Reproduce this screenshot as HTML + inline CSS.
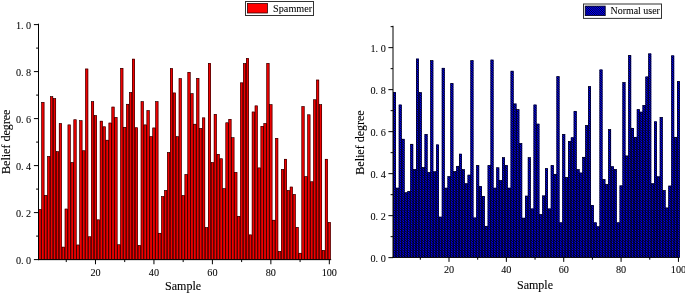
<!DOCTYPE html>
<html><head><meta charset="utf-8"><title>Belief degree</title>
<style>
html,body{margin:0;padding:0;background:#fff;}
svg{display:block;}
text{font-family:"Liberation Serif","Times New Roman",serif;fill:#000;}
.t{font-size:10.2px;stroke:#000;stroke-width:0.06px;}
.l{font-size:12px;stroke:#000;stroke-width:0.1px;}
</style></head><body>
<svg width="685" height="294" viewBox="0 0 685 294">
<defs>
<clipPath id="rc">
<rect x="393.07" y="92.17" width="2.87" height="165.13"/>
<rect x="395.94" y="187.93" width="2.87" height="69.37"/>
<rect x="398.81" y="104.77" width="2.87" height="152.53"/>
<rect x="401.68" y="139" width="2.87" height="118.3"/>
<rect x="404.55" y="192.55" width="2.87" height="64.75"/>
<rect x="407.41" y="191.29" width="2.87" height="66.01"/>
<rect x="410.28" y="144.04" width="2.87" height="113.26"/>
<rect x="413.15" y="169.24" width="2.87" height="88.06"/>
<rect x="416.02" y="58.78" width="2.87" height="198.52"/>
<rect x="418.89" y="92.38" width="2.87" height="164.92"/>
<rect x="421.75" y="167.35" width="2.87" height="89.95"/>
<rect x="424.62" y="134.17" width="2.87" height="123.13"/>
<rect x="427.49" y="172.39" width="2.87" height="84.91"/>
<rect x="430.36" y="60.46" width="2.87" height="196.84"/>
<rect x="433.23" y="171.55" width="2.87" height="85.75"/>
<rect x="436.09" y="144.67" width="2.87" height="112.63"/>
<rect x="438.96" y="216.91" width="2.87" height="40.39"/>
<rect x="441.83" y="68.02" width="2.87" height="189.28"/>
<rect x="444.7" y="187.93" width="2.87" height="69.37"/>
<rect x="447.57" y="176.38" width="2.87" height="80.92"/>
<rect x="450.43" y="83.14" width="2.87" height="174.16"/>
<rect x="453.3" y="171.34" width="2.87" height="85.96"/>
<rect x="456.17" y="166.09" width="2.87" height="91.21"/>
<rect x="459.04" y="153.91" width="2.87" height="103.39"/>
<rect x="461.91" y="169.45" width="2.87" height="87.85"/>
<rect x="464.77" y="183.52" width="2.87" height="73.78"/>
<rect x="467.64" y="174.91" width="2.87" height="82.39"/>
<rect x="470.51" y="60.46" width="2.87" height="196.84"/>
<rect x="473.38" y="217.75" width="2.87" height="39.55"/>
<rect x="476.25" y="165.25" width="2.87" height="92.05"/>
<rect x="479.11" y="186.25" width="2.87" height="71.05"/>
<rect x="481.98" y="196.12" width="2.87" height="61.18"/>
<rect x="484.85" y="226.15" width="2.87" height="31.15"/>
<rect x="487.72" y="165.25" width="2.87" height="92.05"/>
<rect x="490.59" y="59.83" width="2.87" height="197.47"/>
<rect x="493.45" y="187.93" width="2.87" height="69.37"/>
<rect x="496.32" y="167.56" width="2.87" height="89.74"/>
<rect x="499.19" y="180.37" width="2.87" height="76.93"/>
<rect x="502.06" y="157.48" width="2.87" height="99.82"/>
<rect x="504.93" y="165.25" width="2.87" height="92.05"/>
<rect x="507.79" y="187.93" width="2.87" height="69.37"/>
<rect x="510.66" y="70.96" width="2.87" height="186.34"/>
<rect x="513.53" y="103.72" width="2.87" height="153.58"/>
<rect x="516.4" y="109.39" width="2.87" height="147.91"/>
<rect x="519.27" y="143.2" width="2.87" height="114.1"/>
<rect x="522.13" y="217.96" width="2.87" height="39.34"/>
<rect x="525" y="195.91" width="2.87" height="61.39"/>
<rect x="527.87" y="157.48" width="2.87" height="99.82"/>
<rect x="530.74" y="208.72" width="2.87" height="48.58"/>
<rect x="533.61" y="104.77" width="2.87" height="152.53"/>
<rect x="536.47" y="123.88" width="2.87" height="133.42"/>
<rect x="539.34" y="214.39" width="2.87" height="42.91"/>
<rect x="542.21" y="195.7" width="2.87" height="61.6"/>
<rect x="545.08" y="168.4" width="2.87" height="88.9"/>
<rect x="547.95" y="208.72" width="2.87" height="48.58"/>
<rect x="550.81" y="165.25" width="2.87" height="92.05"/>
<rect x="553.68" y="174.07" width="2.87" height="83.23"/>
<rect x="556.55" y="76.42" width="2.87" height="180.88"/>
<rect x="559.42" y="222.58" width="2.87" height="34.72"/>
<rect x="562.29" y="134.17" width="2.87" height="123.13"/>
<rect x="565.15" y="177.43" width="2.87" height="79.87"/>
<rect x="568.02" y="141.1" width="2.87" height="116.2"/>
<rect x="570.89" y="137.53" width="2.87" height="119.77"/>
<rect x="573.76" y="111.07" width="2.87" height="146.23"/>
<rect x="576.63" y="169.45" width="2.87" height="87.85"/>
<rect x="579.49" y="172.81" width="2.87" height="84.49"/>
<rect x="582.36" y="157.06" width="2.87" height="100.24"/>
<rect x="585.23" y="125.35" width="2.87" height="131.95"/>
<rect x="588.1" y="86.37" width="2.87" height="170.93"/>
<rect x="590.97" y="205.15" width="2.87" height="52.15"/>
<rect x="593.83" y="222.58" width="2.87" height="34.72"/>
<rect x="596.7" y="226.57" width="2.87" height="30.73"/>
<rect x="599.57" y="69.7" width="2.87" height="187.6"/>
<rect x="602.44" y="179.32" width="2.87" height="77.98"/>
<rect x="605.31" y="184.36" width="2.87" height="72.94"/>
<rect x="608.17" y="129.34" width="2.87" height="127.96"/>
<rect x="611.04" y="166.51" width="2.87" height="90.79"/>
<rect x="613.91" y="169.24" width="2.87" height="88.06"/>
<rect x="616.78" y="222.58" width="2.87" height="34.72"/>
<rect x="619.65" y="185.62" width="2.87" height="71.68"/>
<rect x="622.51" y="82.3" width="2.87" height="175"/>
<rect x="625.38" y="155.8" width="2.87" height="101.5"/>
<rect x="628.25" y="55.21" width="2.87" height="202.09"/>
<rect x="631.12" y="128.08" width="2.87" height="129.22"/>
<rect x="633.99" y="137.11" width="2.87" height="120.19"/>
<rect x="636.85" y="109.39" width="2.87" height="147.91"/>
<rect x="639.72" y="111.91" width="2.87" height="145.39"/>
<rect x="642.59" y="105.19" width="2.87" height="152.11"/>
<rect x="645.46" y="76.73" width="2.87" height="180.57"/>
<rect x="648.33" y="53.66" width="2.87" height="203.64"/>
<rect x="651.19" y="183.52" width="2.87" height="73.78"/>
<rect x="654.06" y="121.57" width="2.87" height="135.73"/>
<rect x="656.93" y="176.59" width="2.87" height="80.71"/>
<rect x="659.8" y="117.16" width="2.87" height="140.14"/>
<rect x="662.67" y="190.24" width="2.87" height="67.06"/>
<rect x="665.53" y="207.77" width="2.87" height="49.53"/>
<rect x="668.4" y="185.83" width="2.87" height="71.47"/>
<rect x="671.27" y="55.63" width="2.87" height="201.67"/>
<rect x="674.14" y="137.11" width="2.87" height="120.19"/>
<rect x="677.01" y="81.25" width="2.87" height="176.05"/>
</clipPath>
<pattern id="h" patternUnits="userSpaceOnUse" width="2.2" height="2.2"><rect width="2.2" height="2.2" fill="#00f"/><path d="M-1,-1L3.2,3.2M-1,1.2L1,3.2M1.2,-1L3.2,1" stroke="#000" stroke-width="0.8"/></pattern><clipPath id="lc"><rect x="585.2" y="6.1" width="20" height="9.5"/></clipPath>
</defs>
<rect width="685" height="294" fill="#fff"/>

<g fill="#f00000" stroke="none" stroke-width="0">
<rect x="38.482" y="209.28" width="2.923" height="50.37"/>
<rect x="41.005" y="209.48" width="0.8" height="50.17"/>
<rect x="41.404" y="102.12" width="2.923" height="157.53"/>
<rect x="43.928" y="195.38" width="0.8" height="64.27"/>
<rect x="44.328" y="195.18" width="2.923" height="64.47"/>
<rect x="46.851" y="195.38" width="0.8" height="64.27"/>
<rect x="47.251" y="156.17" width="2.923" height="103.48"/>
<rect x="49.774" y="156.37" width="0.8" height="103.28"/>
<rect x="50.174" y="96.48" width="2.923" height="163.17"/>
<rect x="52.697" y="98.56" width="0.8" height="161.09"/>
<rect x="53.097" y="98.36" width="2.923" height="161.29"/>
<rect x="55.62" y="151.67" width="0.8" height="107.98"/>
<rect x="56.02" y="151.47" width="2.923" height="108.18"/>
<rect x="58.543" y="151.67" width="0.8" height="107.98"/>
<rect x="58.943" y="123.27" width="2.923" height="136.38"/>
<rect x="61.466" y="247.08" width="0.8" height="12.57"/>
<rect x="61.866" y="246.88" width="2.923" height="12.77"/>
<rect x="64.388" y="247.08" width="0.8" height="12.57"/>
<rect x="64.788" y="208.81" width="2.923" height="50.84"/>
<rect x="67.311" y="209.01" width="0.8" height="50.64"/>
<rect x="67.712" y="124.68" width="2.923" height="134.97"/>
<rect x="70.234" y="162.48" width="0.8" height="97.17"/>
<rect x="70.635" y="162.28" width="2.923" height="97.37"/>
<rect x="73.157" y="162.48" width="0.8" height="97.17"/>
<rect x="73.558" y="119.51" width="2.923" height="140.14"/>
<rect x="76.081" y="244.97" width="0.8" height="14.68"/>
<rect x="76.481" y="244.77" width="2.923" height="14.88"/>
<rect x="79.004" y="244.97" width="0.8" height="14.68"/>
<rect x="79.404" y="120.45" width="2.923" height="139.2"/>
<rect x="81.927" y="150.73" width="0.8" height="108.92"/>
<rect x="82.327" y="150.53" width="2.923" height="109.12"/>
<rect x="84.85" y="150.73" width="0.8" height="108.92"/>
<rect x="85.25" y="68.75" width="2.923" height="190.9"/>
<rect x="87.773" y="236.74" width="0.8" height="22.91"/>
<rect x="88.173" y="236.54" width="2.923" height="23.11"/>
<rect x="90.696" y="236.74" width="0.8" height="22.91"/>
<rect x="91.096" y="101.42" width="2.923" height="158.23"/>
<rect x="93.618" y="115.48" width="0.8" height="144.17"/>
<rect x="94.019" y="115.28" width="2.923" height="144.37"/>
<rect x="96.541" y="219.82" width="0.8" height="39.83"/>
<rect x="96.942" y="219.62" width="2.923" height="40.03"/>
<rect x="99.465" y="219.82" width="0.8" height="39.83"/>
<rect x="99.864" y="120.92" width="2.923" height="138.73"/>
<rect x="102.387" y="126.76" width="0.8" height="132.89"/>
<rect x="102.787" y="126.56" width="2.923" height="133.09"/>
<rect x="105.31" y="140.16" width="0.8" height="119.49"/>
<rect x="105.71" y="139.96" width="2.923" height="119.69"/>
<rect x="108.233" y="140.16" width="0.8" height="119.49"/>
<rect x="108.633" y="122.8" width="2.923" height="136.85"/>
<rect x="111.156" y="123" width="0.8" height="136.65"/>
<rect x="111.556" y="106.82" width="2.923" height="152.83"/>
<rect x="114.079" y="117.36" width="0.8" height="142.29"/>
<rect x="114.48" y="117.16" width="2.923" height="142.49"/>
<rect x="117.002" y="244.73" width="0.8" height="14.92"/>
<rect x="117.403" y="244.53" width="2.923" height="15.12"/>
<rect x="119.925" y="244.73" width="0.8" height="14.92"/>
<rect x="120.326" y="68.05" width="2.923" height="191.6"/>
<rect x="122.849" y="127.23" width="0.8" height="132.42"/>
<rect x="123.249" y="127.03" width="2.923" height="132.62"/>
<rect x="125.772" y="127.23" width="0.8" height="132.42"/>
<rect x="126.172" y="104" width="2.923" height="155.65"/>
<rect x="128.695" y="104.2" width="0.8" height="155.45"/>
<rect x="129.095" y="92.25" width="2.923" height="167.4"/>
<rect x="131.618" y="92.45" width="0.8" height="167.2"/>
<rect x="132.018" y="58.88" width="2.923" height="200.77"/>
<rect x="134.541" y="127.7" width="0.8" height="131.95"/>
<rect x="134.941" y="127.5" width="2.923" height="132.15"/>
<rect x="137.464" y="245.44" width="0.8" height="14.21"/>
<rect x="137.864" y="245.24" width="2.923" height="14.41"/>
<rect x="140.387" y="245.44" width="0.8" height="14.21"/>
<rect x="140.787" y="101.42" width="2.923" height="158.23"/>
<rect x="143.31" y="124.88" width="0.8" height="134.77"/>
<rect x="143.709" y="124.68" width="2.923" height="134.97"/>
<rect x="146.232" y="124.88" width="0.8" height="134.77"/>
<rect x="146.632" y="110.35" width="2.923" height="149.3"/>
<rect x="149.155" y="136.63" width="0.8" height="123.02"/>
<rect x="149.555" y="136.43" width="2.923" height="123.22"/>
<rect x="152.078" y="136.63" width="0.8" height="123.02"/>
<rect x="152.478" y="127.74" width="2.923" height="131.91"/>
<rect x="155.001" y="127.94" width="0.8" height="131.71"/>
<rect x="155.401" y="101.42" width="2.923" height="158.23"/>
<rect x="157.924" y="233.22" width="0.8" height="26.43"/>
<rect x="158.325" y="233.02" width="2.923" height="26.63"/>
<rect x="160.847" y="233.22" width="0.8" height="26.43"/>
<rect x="161.248" y="196.36" width="2.923" height="63.29"/>
<rect x="163.77" y="196.56" width="0.8" height="63.09"/>
<rect x="164.171" y="190.25" width="2.923" height="69.4"/>
<rect x="166.694" y="190.45" width="0.8" height="69.2"/>
<rect x="167.094" y="152.29" width="2.923" height="107.36"/>
<rect x="169.617" y="152.49" width="0.8" height="107.16"/>
<rect x="170.017" y="68.28" width="2.923" height="191.37"/>
<rect x="172.54" y="92.92" width="0.8" height="166.73"/>
<rect x="172.94" y="92.72" width="2.923" height="166.93"/>
<rect x="175.463" y="136.63" width="0.8" height="123.02"/>
<rect x="175.863" y="136.43" width="2.923" height="123.22"/>
<rect x="178.386" y="136.63" width="0.8" height="123.02"/>
<rect x="178.786" y="78.39" width="2.923" height="181.26"/>
<rect x="181.309" y="195.5" width="0.8" height="64.15"/>
<rect x="181.709" y="195.3" width="2.923" height="64.35"/>
<rect x="184.232" y="195.5" width="0.8" height="64.15"/>
<rect x="184.632" y="174.27" width="2.923" height="85.38"/>
<rect x="187.155" y="174.47" width="0.8" height="85.18"/>
<rect x="187.555" y="72.04" width="2.923" height="187.61"/>
<rect x="190.078" y="93.63" width="0.8" height="166.02"/>
<rect x="190.478" y="93.43" width="2.923" height="166.22"/>
<rect x="193.001" y="124.18" width="0.8" height="135.47"/>
<rect x="193.401" y="123.98" width="2.923" height="135.67"/>
<rect x="195.924" y="124.18" width="0.8" height="135.47"/>
<rect x="196.324" y="78.15" width="2.923" height="181.5"/>
<rect x="198.847" y="128.41" width="0.8" height="131.24"/>
<rect x="199.246" y="128.21" width="2.923" height="131.44"/>
<rect x="201.769" y="128.41" width="0.8" height="131.24"/>
<rect x="202.169" y="117.63" width="2.923" height="142.02"/>
<rect x="204.692" y="227.58" width="0.8" height="32.07"/>
<rect x="205.093" y="227.38" width="2.923" height="32.27"/>
<rect x="207.615" y="227.58" width="0.8" height="32.07"/>
<rect x="208.016" y="63.11" width="2.923" height="196.54"/>
<rect x="210.538" y="162.48" width="0.8" height="97.17"/>
<rect x="210.939" y="162.28" width="2.923" height="97.37"/>
<rect x="213.462" y="162.48" width="0.8" height="97.17"/>
<rect x="213.862" y="114.11" width="2.923" height="145.54"/>
<rect x="216.385" y="154.25" width="0.8" height="105.39"/>
<rect x="216.785" y="154.06" width="2.923" height="105.59"/>
<rect x="219.308" y="158.72" width="0.8" height="100.93"/>
<rect x="219.708" y="158.52" width="2.923" height="101.13"/>
<rect x="222.231" y="188.56" width="0.8" height="71.08"/>
<rect x="222.631" y="188.37" width="2.923" height="71.28"/>
<rect x="225.154" y="188.56" width="0.8" height="71.08"/>
<rect x="225.554" y="122.57" width="2.923" height="137.08"/>
<rect x="228.077" y="122.77" width="0.8" height="136.88"/>
<rect x="228.477" y="119.04" width="2.923" height="140.61"/>
<rect x="231" y="137.69" width="0.8" height="121.96"/>
<rect x="231.4" y="137.49" width="2.923" height="122.16"/>
<rect x="233.923" y="172.35" width="0.8" height="87.3"/>
<rect x="234.323" y="172.15" width="2.923" height="87.5"/>
<rect x="236.846" y="216.3" width="0.8" height="43.35"/>
<rect x="237.246" y="216.1" width="2.923" height="43.55"/>
<rect x="239.769" y="216.3" width="0.8" height="43.35"/>
<rect x="240.169" y="82.62" width="2.923" height="177.03"/>
<rect x="242.692" y="82.82" width="0.8" height="176.83"/>
<rect x="243.092" y="63.35" width="2.923" height="196.3"/>
<rect x="245.615" y="63.55" width="0.8" height="196.1"/>
<rect x="246.015" y="58.18" width="2.923" height="201.47"/>
<rect x="248.538" y="234.86" width="0.8" height="24.79"/>
<rect x="248.938" y="234.66" width="2.923" height="24.99"/>
<rect x="251.46" y="234.86" width="0.8" height="24.79"/>
<rect x="251.861" y="111.76" width="2.923" height="147.89"/>
<rect x="254.383" y="111.96" width="0.8" height="147.69"/>
<rect x="254.784" y="105.65" width="2.923" height="154"/>
<rect x="257.307" y="167.88" width="0.8" height="91.76"/>
<rect x="257.707" y="167.69" width="2.923" height="91.96"/>
<rect x="260.23" y="167.88" width="0.8" height="91.76"/>
<rect x="260.63" y="126.09" width="2.923" height="133.56"/>
<rect x="263.153" y="126.29" width="0.8" height="133.36"/>
<rect x="263.553" y="123.27" width="2.923" height="136.38"/>
<rect x="266.076" y="123.47" width="0.8" height="136.18"/>
<rect x="266.476" y="63.11" width="2.923" height="196.54"/>
<rect x="268.999" y="104.67" width="0.8" height="154.98"/>
<rect x="269.399" y="104.47" width="2.923" height="155.18"/>
<rect x="271.922" y="220.17" width="0.8" height="39.48"/>
<rect x="272.322" y="219.97" width="2.923" height="39.68"/>
<rect x="274.845" y="220.17" width="0.8" height="39.48"/>
<rect x="275.245" y="138.08" width="2.923" height="121.57"/>
<rect x="277.768" y="251.43" width="0.8" height="8.22"/>
<rect x="278.168" y="251.23" width="2.923" height="8.42"/>
<rect x="280.691" y="251.43" width="0.8" height="8.22"/>
<rect x="281.091" y="169.21" width="2.923" height="90.44"/>
<rect x="283.614" y="169.41" width="0.8" height="90.24"/>
<rect x="284.014" y="158.99" width="2.923" height="100.66"/>
<rect x="286.537" y="190.45" width="0.8" height="69.2"/>
<rect x="286.937" y="190.25" width="2.923" height="69.4"/>
<rect x="289.46" y="190.45" width="0.8" height="69.2"/>
<rect x="289.86" y="186.81" width="2.923" height="72.84"/>
<rect x="292.383" y="194.44" width="0.8" height="65.21"/>
<rect x="292.782" y="194.24" width="2.923" height="65.41"/>
<rect x="295.305" y="227.34" width="0.8" height="32.31"/>
<rect x="295.705" y="227.14" width="2.923" height="32.51"/>
<rect x="298.228" y="253.19" width="0.8" height="6.46"/>
<rect x="298.628" y="252.99" width="2.923" height="6.66"/>
<rect x="301.151" y="253.19" width="0.8" height="6.46"/>
<rect x="301.551" y="106.35" width="2.923" height="153.3"/>
<rect x="304.075" y="176.58" width="0.8" height="83.07"/>
<rect x="304.474" y="176.38" width="2.923" height="83.27"/>
<rect x="306.998" y="176.58" width="0.8" height="83.07"/>
<rect x="307.397" y="114.58" width="2.923" height="145.07"/>
<rect x="309.921" y="181.75" width="0.8" height="77.9"/>
<rect x="310.32" y="181.55" width="2.923" height="78.1"/>
<rect x="312.844" y="181.75" width="0.8" height="77.9"/>
<rect x="313.243" y="99.54" width="2.923" height="160.11"/>
<rect x="315.767" y="99.74" width="0.8" height="159.91"/>
<rect x="316.166" y="79.8" width="2.923" height="179.85"/>
<rect x="318.69" y="104.67" width="0.8" height="154.98"/>
<rect x="319.089" y="104.47" width="2.923" height="155.18"/>
<rect x="321.613" y="250.37" width="0.8" height="9.28"/>
<rect x="322.012" y="250.17" width="2.923" height="9.48"/>
<rect x="324.536" y="250.37" width="0.8" height="9.28"/>
<rect x="324.935" y="158.99" width="2.923" height="100.66"/>
<rect x="327.459" y="222.41" width="0.8" height="37.24"/>
<rect x="327.858" y="222.21" width="2.923" height="37.44"/>
</g>
<g fill="none" stroke="#080000" stroke-width="0.55">
<rect x="38.757" y="209.51" width="2.373" height="50.14"/>
<rect x="41.679" y="102.35" width="2.373" height="157.3"/>
<rect x="44.602" y="195.41" width="2.373" height="64.24"/>
<rect x="47.526" y="156.4" width="2.373" height="103.25"/>
<rect x="50.449" y="96.71" width="2.373" height="162.94"/>
<rect x="53.372" y="98.59" width="2.373" height="161.06"/>
<rect x="56.294" y="151.7" width="2.373" height="107.95"/>
<rect x="59.218" y="123.5" width="2.373" height="136.15"/>
<rect x="62.141" y="247.11" width="2.373" height="12.54"/>
<rect x="65.064" y="209.04" width="2.373" height="50.61"/>
<rect x="67.987" y="124.91" width="2.373" height="134.74"/>
<rect x="70.91" y="162.51" width="2.373" height="97.14"/>
<rect x="73.833" y="119.74" width="2.373" height="139.91"/>
<rect x="76.756" y="244.99" width="2.373" height="14.66"/>
<rect x="79.679" y="120.68" width="2.373" height="138.97"/>
<rect x="82.602" y="150.76" width="2.373" height="108.89"/>
<rect x="85.525" y="68.98" width="2.373" height="190.67"/>
<rect x="88.448" y="236.77" width="2.373" height="22.88"/>
<rect x="91.371" y="101.64" width="2.373" height="158.01"/>
<rect x="94.294" y="115.51" width="2.373" height="144.14"/>
<rect x="97.217" y="219.84" width="2.373" height="39.8"/>
<rect x="100.139" y="121.15" width="2.373" height="138.5"/>
<rect x="103.062" y="126.79" width="2.373" height="132.86"/>
<rect x="105.986" y="140.18" width="2.373" height="119.47"/>
<rect x="108.909" y="123.03" width="2.373" height="136.62"/>
<rect x="111.832" y="107.05" width="2.373" height="152.6"/>
<rect x="114.755" y="117.39" width="2.373" height="142.26"/>
<rect x="117.678" y="244.76" width="2.373" height="14.89"/>
<rect x="120.601" y="68.27" width="2.373" height="191.38"/>
<rect x="123.524" y="127.26" width="2.373" height="132.39"/>
<rect x="126.447" y="104.23" width="2.373" height="155.42"/>
<rect x="129.37" y="92.48" width="2.373" height="167.17"/>
<rect x="132.293" y="59.11" width="2.373" height="200.54"/>
<rect x="135.216" y="127.73" width="2.373" height="131.92"/>
<rect x="138.139" y="245.46" width="2.373" height="14.19"/>
<rect x="141.062" y="101.64" width="2.373" height="158.01"/>
<rect x="143.984" y="124.91" width="2.373" height="134.74"/>
<rect x="146.907" y="110.57" width="2.373" height="149.08"/>
<rect x="149.831" y="136.66" width="2.373" height="122.99"/>
<rect x="152.754" y="127.96" width="2.373" height="131.69"/>
<rect x="155.677" y="101.64" width="2.373" height="158.01"/>
<rect x="158.6" y="233.24" width="2.373" height="26.41"/>
<rect x="161.523" y="196.58" width="2.373" height="63.07"/>
<rect x="164.446" y="190.47" width="2.373" height="69.18"/>
<rect x="167.369" y="152.52" width="2.373" height="107.13"/>
<rect x="170.292" y="68.51" width="2.373" height="191.14"/>
<rect x="173.215" y="92.95" width="2.373" height="166.7"/>
<rect x="176.138" y="136.66" width="2.373" height="122.99"/>
<rect x="179.061" y="78.61" width="2.373" height="181.04"/>
<rect x="181.984" y="195.52" width="2.373" height="64.13"/>
<rect x="184.907" y="174.49" width="2.373" height="85.16"/>
<rect x="187.83" y="72.27" width="2.373" height="187.38"/>
<rect x="190.753" y="93.65" width="2.373" height="166"/>
<rect x="193.676" y="124.2" width="2.373" height="135.45"/>
<rect x="196.599" y="78.38" width="2.373" height="181.27"/>
<rect x="199.522" y="128.43" width="2.373" height="131.22"/>
<rect x="202.445" y="117.86" width="2.373" height="141.79"/>
<rect x="205.368" y="227.6" width="2.373" height="32.05"/>
<rect x="208.291" y="63.34" width="2.373" height="196.31"/>
<rect x="211.214" y="162.51" width="2.373" height="97.14"/>
<rect x="214.137" y="114.33" width="2.373" height="145.32"/>
<rect x="217.06" y="154.28" width="2.373" height="105.37"/>
<rect x="219.983" y="158.75" width="2.373" height="100.9"/>
<rect x="222.906" y="188.59" width="2.373" height="71.06"/>
<rect x="225.829" y="122.79" width="2.373" height="136.86"/>
<rect x="228.752" y="119.27" width="2.373" height="140.38"/>
<rect x="231.675" y="137.71" width="2.373" height="121.94"/>
<rect x="234.598" y="172.38" width="2.373" height="87.27"/>
<rect x="237.521" y="216.32" width="2.373" height="43.33"/>
<rect x="240.444" y="82.84" width="2.373" height="176.81"/>
<rect x="243.367" y="63.57" width="2.373" height="196.08"/>
<rect x="246.29" y="58.4" width="2.373" height="201.25"/>
<rect x="249.213" y="234.89" width="2.373" height="24.76"/>
<rect x="252.136" y="111.98" width="2.373" height="147.67"/>
<rect x="255.059" y="105.87" width="2.373" height="153.78"/>
<rect x="257.981" y="167.91" width="2.373" height="91.74"/>
<rect x="260.904" y="126.32" width="2.373" height="133.33"/>
<rect x="263.827" y="123.5" width="2.373" height="136.15"/>
<rect x="266.75" y="63.34" width="2.373" height="196.31"/>
<rect x="269.673" y="104.7" width="2.373" height="154.95"/>
<rect x="272.596" y="220.2" width="2.373" height="39.45"/>
<rect x="275.519" y="138.3" width="2.373" height="121.35"/>
<rect x="278.442" y="251.45" width="2.373" height="8.2"/>
<rect x="281.365" y="169.44" width="2.373" height="90.21"/>
<rect x="284.288" y="159.22" width="2.373" height="100.43"/>
<rect x="287.212" y="190.47" width="2.373" height="69.18"/>
<rect x="290.135" y="187.04" width="2.373" height="72.61"/>
<rect x="293.057" y="194.47" width="2.373" height="65.18"/>
<rect x="295.98" y="227.37" width="2.373" height="32.28"/>
<rect x="298.903" y="253.22" width="2.373" height="6.43"/>
<rect x="301.826" y="106.58" width="2.373" height="153.07"/>
<rect x="304.749" y="176.61" width="2.373" height="83.04"/>
<rect x="307.672" y="114.8" width="2.373" height="144.85"/>
<rect x="310.595" y="181.78" width="2.373" height="77.87"/>
<rect x="313.518" y="99.76" width="2.373" height="159.89"/>
<rect x="316.441" y="80.02" width="2.373" height="179.63"/>
<rect x="319.364" y="104.7" width="2.373" height="154.95"/>
<rect x="322.287" y="250.4" width="2.373" height="9.25"/>
<rect x="325.21" y="159.22" width="2.373" height="100.43"/>
<rect x="328.133" y="222.43" width="2.373" height="37.22"/>
</g>
<g stroke="#000" stroke-width="1" fill="none">
<line x1="38.5" y1="23.7" x2="38.5" y2="260.15"/>
<line x1="38" y1="259.65" x2="331.2" y2="259.65"/>
<line x1="33.9" y1="259.6" x2="38.5" y2="259.6"/>
<line x1="36.1" y1="236.1" x2="38.5" y2="236.1"/>
<line x1="33.9" y1="212.6" x2="38.5" y2="212.6"/>
<line x1="36.1" y1="189.1" x2="38.5" y2="189.1"/>
<line x1="33.9" y1="165.6" x2="38.5" y2="165.6"/>
<line x1="36.1" y1="142.1" x2="38.5" y2="142.1"/>
<line x1="33.9" y1="118.6" x2="38.5" y2="118.6"/>
<line x1="36.1" y1="95.1" x2="38.5" y2="95.1"/>
<line x1="33.9" y1="71.6" x2="38.5" y2="71.6"/>
<line x1="36.1" y1="48.1" x2="38.5" y2="48.1"/>
<line x1="33.9" y1="24.6" x2="38.5" y2="24.6"/>
<line x1="66.25" y1="259.65" x2="66.25" y2="262.05"/>
<line x1="95.48" y1="259.65" x2="95.48" y2="264.25"/>
<line x1="124.71" y1="259.65" x2="124.71" y2="262.05"/>
<line x1="153.94" y1="259.65" x2="153.94" y2="264.25"/>
<line x1="183.17" y1="259.65" x2="183.17" y2="262.05"/>
<line x1="212.4" y1="259.65" x2="212.4" y2="264.25"/>
<line x1="241.63" y1="259.65" x2="241.63" y2="262.05"/>
<line x1="270.86" y1="259.65" x2="270.86" y2="264.25"/>
<line x1="300.09" y1="259.65" x2="300.09" y2="262.05"/>
<line x1="329.32" y1="259.65" x2="329.32" y2="264.25"/>
</g>
<text class="t" x="31.2" y="264" text-anchor="end" xml:space="preserve">0. 0</text>
<text class="t" x="31.2" y="217" text-anchor="end" xml:space="preserve">0. 2</text>
<text class="t" x="31.2" y="170" text-anchor="end" xml:space="preserve">0. 4</text>
<text class="t" x="31.2" y="123" text-anchor="end" xml:space="preserve">0. 6</text>
<text class="t" x="31.2" y="76" text-anchor="end" xml:space="preserve">0. 8</text>
<text class="t" x="31.2" y="29" text-anchor="end" xml:space="preserve">1. 0</text>
<text class="t" x="95.48" y="275.9" text-anchor="middle">20</text>
<text class="t" x="153.94" y="275.9" text-anchor="middle">40</text>
<text class="t" x="212.4" y="275.9" text-anchor="middle">60</text>
<text class="t" x="270.86" y="275.9" text-anchor="middle">80</text>
<text class="t" x="329.32" y="275.9" text-anchor="middle">100</text>
<text class="l" x="183.1" y="290.3" text-anchor="middle">Sample</text>
<text class="l" transform="translate(9.6,141.8) rotate(-90)" text-anchor="middle">Belief degree</text>
<g fill="#0000ff" stroke="none" stroke-width="0">
<rect x="393.074" y="92.12" width="2.868" height="165.18"/>
<rect x="395.542" y="187.63" width="0.8" height="69.67"/>
<rect x="395.942" y="187.88" width="2.868" height="69.42"/>
<rect x="398.41" y="187.63" width="0.8" height="69.67"/>
<rect x="398.81" y="104.72" width="2.868" height="152.58"/>
<rect x="401.278" y="138.7" width="0.8" height="118.6"/>
<rect x="401.678" y="138.95" width="2.868" height="118.35"/>
<rect x="404.146" y="192.25" width="0.8" height="65.05"/>
<rect x="404.546" y="192.5" width="2.868" height="64.8"/>
<rect x="407.014" y="192.25" width="0.8" height="65.05"/>
<rect x="407.414" y="191.24" width="2.868" height="66.06"/>
<rect x="409.882" y="190.99" width="0.8" height="66.31"/>
<rect x="410.282" y="143.99" width="2.868" height="113.31"/>
<rect x="412.75" y="168.94" width="0.8" height="88.36"/>
<rect x="413.15" y="169.19" width="2.868" height="88.11"/>
<rect x="415.618" y="168.94" width="0.8" height="88.36"/>
<rect x="416.018" y="58.73" width="2.868" height="198.57"/>
<rect x="418.486" y="92.08" width="0.8" height="165.22"/>
<rect x="418.886" y="92.33" width="2.868" height="164.97"/>
<rect x="421.354" y="167.05" width="0.8" height="90.25"/>
<rect x="421.754" y="167.3" width="2.868" height="90"/>
<rect x="424.222" y="167.05" width="0.8" height="90.25"/>
<rect x="424.622" y="134.12" width="2.868" height="123.18"/>
<rect x="427.09" y="172.09" width="0.8" height="85.21"/>
<rect x="427.49" y="172.34" width="2.868" height="84.96"/>
<rect x="429.958" y="172.09" width="0.8" height="85.21"/>
<rect x="430.358" y="60.41" width="2.868" height="196.89"/>
<rect x="432.826" y="171.25" width="0.8" height="86.05"/>
<rect x="433.226" y="171.5" width="2.868" height="85.8"/>
<rect x="435.694" y="171.25" width="0.8" height="86.05"/>
<rect x="436.094" y="144.62" width="2.868" height="112.68"/>
<rect x="438.562" y="216.61" width="0.8" height="40.69"/>
<rect x="438.962" y="216.86" width="2.868" height="40.44"/>
<rect x="441.43" y="216.61" width="0.8" height="40.69"/>
<rect x="441.83" y="67.97" width="2.868" height="189.33"/>
<rect x="444.298" y="187.63" width="0.8" height="69.67"/>
<rect x="444.698" y="187.88" width="2.868" height="69.42"/>
<rect x="447.166" y="187.63" width="0.8" height="69.67"/>
<rect x="447.566" y="176.33" width="2.868" height="80.97"/>
<rect x="450.034" y="176.08" width="0.8" height="81.22"/>
<rect x="450.434" y="83.09" width="2.868" height="174.21"/>
<rect x="452.902" y="171.04" width="0.8" height="86.26"/>
<rect x="453.302" y="171.29" width="2.868" height="86.01"/>
<rect x="455.77" y="171.04" width="0.8" height="86.26"/>
<rect x="456.17" y="166.04" width="2.868" height="91.26"/>
<rect x="458.638" y="165.79" width="0.8" height="91.51"/>
<rect x="459.038" y="153.86" width="2.868" height="103.44"/>
<rect x="461.506" y="169.15" width="0.8" height="88.15"/>
<rect x="461.906" y="169.4" width="2.868" height="87.9"/>
<rect x="464.374" y="183.22" width="0.8" height="74.08"/>
<rect x="464.774" y="183.47" width="2.868" height="73.83"/>
<rect x="467.242" y="183.22" width="0.8" height="74.08"/>
<rect x="467.642" y="174.86" width="2.868" height="82.44"/>
<rect x="470.11" y="174.61" width="0.8" height="82.69"/>
<rect x="470.51" y="60.41" width="2.868" height="196.89"/>
<rect x="472.978" y="217.45" width="0.8" height="39.85"/>
<rect x="473.378" y="217.7" width="2.868" height="39.6"/>
<rect x="475.846" y="217.45" width="0.8" height="39.85"/>
<rect x="476.246" y="165.2" width="2.868" height="92.1"/>
<rect x="478.714" y="185.95" width="0.8" height="71.35"/>
<rect x="479.114" y="186.2" width="2.868" height="71.1"/>
<rect x="481.582" y="195.82" width="0.8" height="61.48"/>
<rect x="481.982" y="196.07" width="2.868" height="61.23"/>
<rect x="484.45" y="225.85" width="0.8" height="31.45"/>
<rect x="484.85" y="226.1" width="2.868" height="31.2"/>
<rect x="487.318" y="225.85" width="0.8" height="31.45"/>
<rect x="487.718" y="165.2" width="2.868" height="92.1"/>
<rect x="490.186" y="164.95" width="0.8" height="92.35"/>
<rect x="490.586" y="59.78" width="2.868" height="197.52"/>
<rect x="493.054" y="187.63" width="0.8" height="69.67"/>
<rect x="493.454" y="187.88" width="2.868" height="69.42"/>
<rect x="495.922" y="187.63" width="0.8" height="69.67"/>
<rect x="496.322" y="167.51" width="2.868" height="89.79"/>
<rect x="498.79" y="180.07" width="0.8" height="77.23"/>
<rect x="499.19" y="180.32" width="2.868" height="76.98"/>
<rect x="501.658" y="180.07" width="0.8" height="77.23"/>
<rect x="502.058" y="157.43" width="2.868" height="99.87"/>
<rect x="504.526" y="164.95" width="0.8" height="92.35"/>
<rect x="504.926" y="165.2" width="2.868" height="92.1"/>
<rect x="507.394" y="187.63" width="0.8" height="69.67"/>
<rect x="507.794" y="187.88" width="2.868" height="69.42"/>
<rect x="510.262" y="187.63" width="0.8" height="69.67"/>
<rect x="510.662" y="70.91" width="2.868" height="186.39"/>
<rect x="513.13" y="103.42" width="0.8" height="153.88"/>
<rect x="513.53" y="103.67" width="2.868" height="153.63"/>
<rect x="515.998" y="109.09" width="0.8" height="148.21"/>
<rect x="516.398" y="109.34" width="2.868" height="147.96"/>
<rect x="518.866" y="142.9" width="0.8" height="114.4"/>
<rect x="519.266" y="143.15" width="2.868" height="114.15"/>
<rect x="521.734" y="217.66" width="0.8" height="39.64"/>
<rect x="522.134" y="217.91" width="2.868" height="39.39"/>
<rect x="524.602" y="217.66" width="0.8" height="39.64"/>
<rect x="525.002" y="195.86" width="2.868" height="61.44"/>
<rect x="527.47" y="195.61" width="0.8" height="61.69"/>
<rect x="527.87" y="157.43" width="2.868" height="99.87"/>
<rect x="530.338" y="208.42" width="0.8" height="48.88"/>
<rect x="530.738" y="208.67" width="2.868" height="48.63"/>
<rect x="533.206" y="208.42" width="0.8" height="48.88"/>
<rect x="533.606" y="104.72" width="2.868" height="152.58"/>
<rect x="536.074" y="123.58" width="0.8" height="133.72"/>
<rect x="536.474" y="123.83" width="2.868" height="133.47"/>
<rect x="538.942" y="214.09" width="0.8" height="43.21"/>
<rect x="539.342" y="214.34" width="2.868" height="42.96"/>
<rect x="541.81" y="214.09" width="0.8" height="43.21"/>
<rect x="542.21" y="195.65" width="2.868" height="61.65"/>
<rect x="544.678" y="195.4" width="0.8" height="61.9"/>
<rect x="545.078" y="168.35" width="2.868" height="88.95"/>
<rect x="547.546" y="208.42" width="0.8" height="48.88"/>
<rect x="547.946" y="208.67" width="2.868" height="48.63"/>
<rect x="550.414" y="208.42" width="0.8" height="48.88"/>
<rect x="550.814" y="165.2" width="2.868" height="92.1"/>
<rect x="553.282" y="173.77" width="0.8" height="83.53"/>
<rect x="553.682" y="174.02" width="2.868" height="83.28"/>
<rect x="556.15" y="173.77" width="0.8" height="83.53"/>
<rect x="556.55" y="76.37" width="2.868" height="180.93"/>
<rect x="559.018" y="222.28" width="0.8" height="35.02"/>
<rect x="559.418" y="222.53" width="2.868" height="34.77"/>
<rect x="561.886" y="222.28" width="0.8" height="35.02"/>
<rect x="562.286" y="134.12" width="2.868" height="123.18"/>
<rect x="564.754" y="177.13" width="0.8" height="80.17"/>
<rect x="565.154" y="177.38" width="2.868" height="79.92"/>
<rect x="567.622" y="177.13" width="0.8" height="80.17"/>
<rect x="568.022" y="141.05" width="2.868" height="116.25"/>
<rect x="570.49" y="140.8" width="0.8" height="116.5"/>
<rect x="570.89" y="137.48" width="2.868" height="119.82"/>
<rect x="573.358" y="137.23" width="0.8" height="120.07"/>
<rect x="573.758" y="111.02" width="2.868" height="146.28"/>
<rect x="576.226" y="169.15" width="0.8" height="88.15"/>
<rect x="576.626" y="169.4" width="2.868" height="87.9"/>
<rect x="579.094" y="172.51" width="0.8" height="84.79"/>
<rect x="579.494" y="172.76" width="2.868" height="84.54"/>
<rect x="581.962" y="172.51" width="0.8" height="84.79"/>
<rect x="582.362" y="157.01" width="2.868" height="100.29"/>
<rect x="584.83" y="156.76" width="0.8" height="100.54"/>
<rect x="585.23" y="125.3" width="2.868" height="132"/>
<rect x="587.698" y="125.05" width="0.8" height="132.25"/>
<rect x="588.098" y="86.32" width="2.868" height="170.98"/>
<rect x="590.566" y="204.85" width="0.8" height="52.45"/>
<rect x="590.966" y="205.1" width="2.868" height="52.2"/>
<rect x="593.434" y="222.28" width="0.8" height="35.02"/>
<rect x="593.834" y="222.53" width="2.868" height="34.77"/>
<rect x="596.302" y="226.27" width="0.8" height="31.03"/>
<rect x="596.702" y="226.52" width="2.868" height="30.78"/>
<rect x="599.17" y="226.27" width="0.8" height="31.03"/>
<rect x="599.57" y="69.65" width="2.868" height="187.65"/>
<rect x="602.038" y="179.02" width="0.8" height="78.28"/>
<rect x="602.438" y="179.27" width="2.868" height="78.03"/>
<rect x="604.906" y="184.06" width="0.8" height="73.24"/>
<rect x="605.306" y="184.31" width="2.868" height="72.99"/>
<rect x="607.774" y="184.06" width="0.8" height="73.24"/>
<rect x="608.174" y="129.29" width="2.868" height="128.01"/>
<rect x="610.642" y="166.21" width="0.8" height="91.09"/>
<rect x="611.042" y="166.46" width="2.868" height="90.84"/>
<rect x="613.51" y="168.94" width="0.8" height="88.36"/>
<rect x="613.91" y="169.19" width="2.868" height="88.11"/>
<rect x="616.378" y="222.28" width="0.8" height="35.02"/>
<rect x="616.778" y="222.53" width="2.868" height="34.77"/>
<rect x="619.246" y="222.28" width="0.8" height="35.02"/>
<rect x="619.646" y="185.57" width="2.868" height="71.73"/>
<rect x="622.114" y="185.32" width="0.8" height="71.98"/>
<rect x="622.514" y="82.25" width="2.868" height="175.05"/>
<rect x="624.982" y="155.5" width="0.8" height="101.8"/>
<rect x="625.382" y="155.75" width="2.868" height="101.55"/>
<rect x="627.85" y="155.5" width="0.8" height="101.8"/>
<rect x="628.25" y="55.16" width="2.868" height="202.14"/>
<rect x="630.718" y="127.78" width="0.8" height="129.52"/>
<rect x="631.118" y="128.03" width="2.868" height="129.27"/>
<rect x="633.586" y="136.81" width="0.8" height="120.49"/>
<rect x="633.986" y="137.06" width="2.868" height="120.24"/>
<rect x="636.454" y="136.81" width="0.8" height="120.49"/>
<rect x="636.854" y="109.34" width="2.868" height="147.96"/>
<rect x="639.322" y="111.61" width="0.8" height="145.69"/>
<rect x="639.722" y="111.86" width="2.868" height="145.44"/>
<rect x="642.19" y="111.61" width="0.8" height="145.69"/>
<rect x="642.59" y="105.14" width="2.868" height="152.16"/>
<rect x="645.058" y="104.89" width="0.8" height="152.41"/>
<rect x="645.458" y="76.68" width="2.868" height="180.62"/>
<rect x="647.926" y="76.43" width="0.8" height="180.87"/>
<rect x="648.326" y="53.61" width="2.868" height="203.69"/>
<rect x="650.794" y="183.22" width="0.8" height="74.08"/>
<rect x="651.194" y="183.47" width="2.868" height="73.83"/>
<rect x="653.662" y="183.22" width="0.8" height="74.08"/>
<rect x="654.062" y="121.52" width="2.868" height="135.78"/>
<rect x="656.53" y="176.29" width="0.8" height="81.01"/>
<rect x="656.93" y="176.54" width="2.868" height="80.76"/>
<rect x="659.398" y="176.29" width="0.8" height="81.01"/>
<rect x="659.798" y="117.11" width="2.868" height="140.19"/>
<rect x="662.266" y="189.94" width="0.8" height="67.36"/>
<rect x="662.666" y="190.19" width="2.868" height="67.11"/>
<rect x="665.134" y="207.47" width="0.8" height="49.83"/>
<rect x="665.534" y="207.72" width="2.868" height="49.58"/>
<rect x="668.002" y="207.47" width="0.8" height="49.83"/>
<rect x="668.402" y="185.78" width="2.868" height="71.52"/>
<rect x="670.87" y="185.53" width="0.8" height="71.77"/>
<rect x="671.27" y="55.58" width="2.868" height="201.72"/>
<rect x="673.738" y="136.81" width="0.8" height="120.49"/>
<rect x="674.138" y="137.06" width="2.868" height="120.24"/>
<rect x="676.606" y="136.81" width="0.8" height="120.49"/>
<rect x="677.006" y="81.2" width="2.868" height="176.1"/>
</g>
<g clip-path="url(#rc)" stroke="#000" stroke-width="0.85" fill="none">
<line x1="393.07" y1="-216.05" x2="682.74" y2="21.3"/>
<line x1="393.07" y1="-213.7" x2="682.74" y2="23.65"/>
<line x1="393.07" y1="-211.35" x2="682.74" y2="26"/>
<line x1="393.07" y1="-209" x2="682.74" y2="28.35"/>
<line x1="393.07" y1="-206.65" x2="682.74" y2="30.7"/>
<line x1="393.07" y1="-204.3" x2="682.74" y2="33.05"/>
<line x1="393.07" y1="-201.95" x2="682.74" y2="35.4"/>
<line x1="393.07" y1="-199.6" x2="682.74" y2="37.75"/>
<line x1="393.07" y1="-197.25" x2="682.74" y2="40.1"/>
<line x1="393.07" y1="-194.9" x2="682.74" y2="42.45"/>
<line x1="393.07" y1="-192.55" x2="682.74" y2="44.8"/>
<line x1="393.07" y1="-190.2" x2="682.74" y2="47.15"/>
<line x1="393.07" y1="-187.85" x2="682.74" y2="49.5"/>
<line x1="393.07" y1="-185.5" x2="682.74" y2="51.85"/>
<line x1="393.07" y1="-183.15" x2="682.74" y2="54.2"/>
<line x1="393.07" y1="-180.8" x2="682.74" y2="56.55"/>
<line x1="393.07" y1="-178.45" x2="682.74" y2="58.9"/>
<line x1="393.07" y1="-176.1" x2="682.74" y2="61.25"/>
<line x1="393.07" y1="-173.75" x2="682.74" y2="63.6"/>
<line x1="393.07" y1="-171.4" x2="682.74" y2="65.95"/>
<line x1="393.07" y1="-169.05" x2="682.74" y2="68.3"/>
<line x1="393.07" y1="-166.7" x2="682.74" y2="70.65"/>
<line x1="393.07" y1="-164.35" x2="682.74" y2="73"/>
<line x1="393.07" y1="-162" x2="682.74" y2="75.35"/>
<line x1="393.07" y1="-159.65" x2="682.74" y2="77.7"/>
<line x1="393.07" y1="-157.3" x2="682.74" y2="80.05"/>
<line x1="393.07" y1="-154.95" x2="682.74" y2="82.4"/>
<line x1="393.07" y1="-152.6" x2="682.74" y2="84.75"/>
<line x1="393.07" y1="-150.25" x2="682.74" y2="87.1"/>
<line x1="393.07" y1="-147.9" x2="682.74" y2="89.45"/>
<line x1="393.07" y1="-145.55" x2="682.74" y2="91.8"/>
<line x1="393.07" y1="-143.2" x2="682.74" y2="94.15"/>
<line x1="393.07" y1="-140.85" x2="682.74" y2="96.5"/>
<line x1="393.07" y1="-138.5" x2="682.74" y2="98.85"/>
<line x1="393.07" y1="-136.15" x2="682.74" y2="101.2"/>
<line x1="393.07" y1="-133.8" x2="682.74" y2="103.55"/>
<line x1="393.07" y1="-131.45" x2="682.74" y2="105.9"/>
<line x1="393.07" y1="-129.1" x2="682.74" y2="108.25"/>
<line x1="393.07" y1="-126.75" x2="682.74" y2="110.6"/>
<line x1="393.07" y1="-124.4" x2="682.74" y2="112.95"/>
<line x1="393.07" y1="-122.05" x2="682.74" y2="115.3"/>
<line x1="393.07" y1="-119.7" x2="682.74" y2="117.65"/>
<line x1="393.07" y1="-117.35" x2="682.74" y2="120"/>
<line x1="393.07" y1="-115" x2="682.74" y2="122.35"/>
<line x1="393.07" y1="-112.65" x2="682.74" y2="124.7"/>
<line x1="393.07" y1="-110.3" x2="682.74" y2="127.05"/>
<line x1="393.07" y1="-107.95" x2="682.74" y2="129.4"/>
<line x1="393.07" y1="-105.6" x2="682.74" y2="131.75"/>
<line x1="393.07" y1="-103.25" x2="682.74" y2="134.1"/>
<line x1="393.07" y1="-100.9" x2="682.74" y2="136.45"/>
<line x1="393.07" y1="-98.55" x2="682.74" y2="138.8"/>
<line x1="393.07" y1="-96.2" x2="682.74" y2="141.15"/>
<line x1="393.07" y1="-93.85" x2="682.74" y2="143.5"/>
<line x1="393.07" y1="-91.5" x2="682.74" y2="145.85"/>
<line x1="393.07" y1="-89.15" x2="682.74" y2="148.2"/>
<line x1="393.07" y1="-86.8" x2="682.74" y2="150.55"/>
<line x1="393.07" y1="-84.45" x2="682.74" y2="152.9"/>
<line x1="393.07" y1="-82.1" x2="682.74" y2="155.25"/>
<line x1="393.07" y1="-79.75" x2="682.74" y2="157.6"/>
<line x1="393.07" y1="-77.4" x2="682.74" y2="159.95"/>
<line x1="393.07" y1="-75.05" x2="682.74" y2="162.3"/>
<line x1="393.07" y1="-72.7" x2="682.74" y2="164.65"/>
<line x1="393.07" y1="-70.35" x2="682.74" y2="167"/>
<line x1="393.07" y1="-68" x2="682.74" y2="169.35"/>
<line x1="393.07" y1="-65.65" x2="682.74" y2="171.7"/>
<line x1="393.07" y1="-63.3" x2="682.74" y2="174.05"/>
<line x1="393.07" y1="-60.95" x2="682.74" y2="176.4"/>
<line x1="393.07" y1="-58.6" x2="682.74" y2="178.75"/>
<line x1="393.07" y1="-56.25" x2="682.74" y2="181.1"/>
<line x1="393.07" y1="-53.9" x2="682.74" y2="183.45"/>
<line x1="393.07" y1="-51.55" x2="682.74" y2="185.8"/>
<line x1="393.07" y1="-49.2" x2="682.74" y2="188.15"/>
<line x1="393.07" y1="-46.85" x2="682.74" y2="190.5"/>
<line x1="393.07" y1="-44.5" x2="682.74" y2="192.85"/>
<line x1="393.07" y1="-42.15" x2="682.74" y2="195.2"/>
<line x1="393.07" y1="-39.8" x2="682.74" y2="197.55"/>
<line x1="393.07" y1="-37.45" x2="682.74" y2="199.9"/>
<line x1="393.07" y1="-35.1" x2="682.74" y2="202.25"/>
<line x1="393.07" y1="-32.75" x2="682.74" y2="204.6"/>
<line x1="393.07" y1="-30.4" x2="682.74" y2="206.95"/>
<line x1="393.07" y1="-28.05" x2="682.74" y2="209.3"/>
<line x1="393.07" y1="-25.7" x2="682.74" y2="211.65"/>
<line x1="393.07" y1="-23.35" x2="682.74" y2="214"/>
<line x1="393.07" y1="-21" x2="682.74" y2="216.35"/>
<line x1="393.07" y1="-18.65" x2="682.74" y2="218.7"/>
<line x1="393.07" y1="-16.3" x2="682.74" y2="221.05"/>
<line x1="393.07" y1="-13.95" x2="682.74" y2="223.4"/>
<line x1="393.07" y1="-11.6" x2="682.74" y2="225.75"/>
<line x1="393.07" y1="-9.25" x2="682.74" y2="228.1"/>
<line x1="393.07" y1="-6.9" x2="682.74" y2="230.45"/>
<line x1="393.07" y1="-4.55" x2="682.74" y2="232.8"/>
<line x1="393.07" y1="-2.2" x2="682.74" y2="235.15"/>
<line x1="393.07" y1="0.15" x2="682.74" y2="237.5"/>
<line x1="393.07" y1="2.5" x2="682.74" y2="239.85"/>
<line x1="393.07" y1="4.85" x2="682.74" y2="242.2"/>
<line x1="393.07" y1="7.2" x2="682.74" y2="244.55"/>
<line x1="393.07" y1="9.55" x2="682.74" y2="246.9"/>
<line x1="393.07" y1="11.9" x2="682.74" y2="249.25"/>
<line x1="393.07" y1="14.25" x2="682.74" y2="251.6"/>
<line x1="393.07" y1="16.6" x2="682.74" y2="253.95"/>
<line x1="393.07" y1="18.95" x2="682.74" y2="256.3"/>
<line x1="393.07" y1="21.3" x2="682.74" y2="258.65"/>
<line x1="393.07" y1="23.65" x2="682.74" y2="261"/>
<line x1="393.07" y1="26" x2="682.74" y2="263.35"/>
<line x1="393.07" y1="28.35" x2="682.74" y2="265.7"/>
<line x1="393.07" y1="30.7" x2="682.74" y2="268.05"/>
<line x1="393.07" y1="33.05" x2="682.74" y2="270.4"/>
<line x1="393.07" y1="35.4" x2="682.74" y2="272.75"/>
<line x1="393.07" y1="37.75" x2="682.74" y2="275.1"/>
<line x1="393.07" y1="40.1" x2="682.74" y2="277.45"/>
<line x1="393.07" y1="42.45" x2="682.74" y2="279.8"/>
<line x1="393.07" y1="44.8" x2="682.74" y2="282.15"/>
<line x1="393.07" y1="47.15" x2="682.74" y2="284.5"/>
<line x1="393.07" y1="49.5" x2="682.74" y2="286.85"/>
<line x1="393.07" y1="51.85" x2="682.74" y2="289.2"/>
<line x1="393.07" y1="54.2" x2="682.74" y2="291.55"/>
<line x1="393.07" y1="56.55" x2="682.74" y2="293.9"/>
<line x1="393.07" y1="58.9" x2="682.74" y2="296.25"/>
<line x1="393.07" y1="61.25" x2="682.74" y2="298.6"/>
<line x1="393.07" y1="63.6" x2="682.74" y2="300.95"/>
<line x1="393.07" y1="65.95" x2="682.74" y2="303.3"/>
<line x1="393.07" y1="68.3" x2="682.74" y2="305.65"/>
<line x1="393.07" y1="70.65" x2="682.74" y2="308"/>
<line x1="393.07" y1="73" x2="682.74" y2="310.35"/>
<line x1="393.07" y1="75.35" x2="682.74" y2="312.7"/>
<line x1="393.07" y1="77.7" x2="682.74" y2="315.05"/>
<line x1="393.07" y1="80.05" x2="682.74" y2="317.4"/>
<line x1="393.07" y1="82.4" x2="682.74" y2="319.75"/>
<line x1="393.07" y1="84.75" x2="682.74" y2="322.1"/>
<line x1="393.07" y1="87.1" x2="682.74" y2="324.45"/>
<line x1="393.07" y1="89.45" x2="682.74" y2="326.8"/>
<line x1="393.07" y1="91.8" x2="682.74" y2="329.15"/>
<line x1="393.07" y1="94.15" x2="682.74" y2="331.5"/>
<line x1="393.07" y1="96.5" x2="682.74" y2="333.85"/>
<line x1="393.07" y1="98.85" x2="682.74" y2="336.2"/>
<line x1="393.07" y1="101.2" x2="682.74" y2="338.55"/>
<line x1="393.07" y1="103.55" x2="682.74" y2="340.9"/>
<line x1="393.07" y1="105.9" x2="682.74" y2="343.25"/>
<line x1="393.07" y1="108.25" x2="682.74" y2="345.6"/>
<line x1="393.07" y1="110.6" x2="682.74" y2="347.95"/>
<line x1="393.07" y1="112.95" x2="682.74" y2="350.3"/>
<line x1="393.07" y1="115.3" x2="682.74" y2="352.65"/>
<line x1="393.07" y1="117.65" x2="682.74" y2="355"/>
<line x1="393.07" y1="120" x2="682.74" y2="357.35"/>
<line x1="393.07" y1="122.35" x2="682.74" y2="359.7"/>
<line x1="393.07" y1="124.7" x2="682.74" y2="362.05"/>
<line x1="393.07" y1="127.05" x2="682.74" y2="364.4"/>
<line x1="393.07" y1="129.4" x2="682.74" y2="366.75"/>
<line x1="393.07" y1="131.75" x2="682.74" y2="369.1"/>
<line x1="393.07" y1="134.1" x2="682.74" y2="371.45"/>
<line x1="393.07" y1="136.45" x2="682.74" y2="373.8"/>
<line x1="393.07" y1="138.8" x2="682.74" y2="376.15"/>
<line x1="393.07" y1="141.15" x2="682.74" y2="378.5"/>
<line x1="393.07" y1="143.5" x2="682.74" y2="380.85"/>
<line x1="393.07" y1="145.85" x2="682.74" y2="383.2"/>
<line x1="393.07" y1="148.2" x2="682.74" y2="385.55"/>
<line x1="393.07" y1="150.55" x2="682.74" y2="387.9"/>
<line x1="393.07" y1="152.9" x2="682.74" y2="390.25"/>
<line x1="393.07" y1="155.25" x2="682.74" y2="392.6"/>
<line x1="393.07" y1="157.6" x2="682.74" y2="394.95"/>
<line x1="393.07" y1="159.95" x2="682.74" y2="397.3"/>
<line x1="393.07" y1="162.3" x2="682.74" y2="399.65"/>
<line x1="393.07" y1="164.65" x2="682.74" y2="402"/>
<line x1="393.07" y1="167" x2="682.74" y2="404.35"/>
<line x1="393.07" y1="169.35" x2="682.74" y2="406.7"/>
<line x1="393.07" y1="171.7" x2="682.74" y2="409.05"/>
<line x1="393.07" y1="174.05" x2="682.74" y2="411.4"/>
<line x1="393.07" y1="176.4" x2="682.74" y2="413.75"/>
<line x1="393.07" y1="178.75" x2="682.74" y2="416.1"/>
<line x1="393.07" y1="181.1" x2="682.74" y2="418.45"/>
<line x1="393.07" y1="183.45" x2="682.74" y2="420.8"/>
<line x1="393.07" y1="185.8" x2="682.74" y2="423.15"/>
<line x1="393.07" y1="188.15" x2="682.74" y2="425.5"/>
<line x1="393.07" y1="190.5" x2="682.74" y2="427.85"/>
<line x1="393.07" y1="192.85" x2="682.74" y2="430.2"/>
<line x1="393.07" y1="195.2" x2="682.74" y2="432.55"/>
<line x1="393.07" y1="197.55" x2="682.74" y2="434.9"/>
<line x1="393.07" y1="199.9" x2="682.74" y2="437.25"/>
<line x1="393.07" y1="202.25" x2="682.74" y2="439.6"/>
<line x1="393.07" y1="204.6" x2="682.74" y2="441.95"/>
<line x1="393.07" y1="206.95" x2="682.74" y2="444.3"/>
<line x1="393.07" y1="209.3" x2="682.74" y2="446.65"/>
<line x1="393.07" y1="211.65" x2="682.74" y2="449"/>
<line x1="393.07" y1="214" x2="682.74" y2="451.35"/>
<line x1="393.07" y1="216.35" x2="682.74" y2="453.7"/>
<line x1="393.07" y1="218.7" x2="682.74" y2="456.05"/>
<line x1="393.07" y1="221.05" x2="682.74" y2="458.4"/>
<line x1="393.07" y1="223.4" x2="682.74" y2="460.75"/>
<line x1="393.07" y1="225.75" x2="682.74" y2="463.1"/>
<line x1="393.07" y1="228.1" x2="682.74" y2="465.45"/>
<line x1="393.07" y1="230.45" x2="682.74" y2="467.8"/>
<line x1="393.07" y1="232.8" x2="682.74" y2="470.15"/>
<line x1="393.07" y1="235.15" x2="682.74" y2="472.5"/>
<line x1="393.07" y1="237.5" x2="682.74" y2="474.85"/>
<line x1="393.07" y1="239.85" x2="682.74" y2="477.2"/>
<line x1="393.07" y1="242.2" x2="682.74" y2="479.55"/>
<line x1="393.07" y1="244.55" x2="682.74" y2="481.9"/>
<line x1="393.07" y1="246.9" x2="682.74" y2="484.25"/>
<line x1="393.07" y1="249.25" x2="682.74" y2="486.6"/>
<line x1="393.07" y1="251.6" x2="682.74" y2="488.95"/>
<line x1="393.07" y1="253.95" x2="682.74" y2="491.3"/>
<line x1="393.07" y1="256.3" x2="682.74" y2="493.65"/>
</g>
<g fill="none" stroke="#000" stroke-width="0.6">
<rect x="393.374" y="92.37" width="2.268" height="164.93"/>
<rect x="396.242" y="188.13" width="2.268" height="69.17"/>
<rect x="399.11" y="104.97" width="2.268" height="152.33"/>
<rect x="401.978" y="139.2" width="2.268" height="118.1"/>
<rect x="404.846" y="192.75" width="2.268" height="64.55"/>
<rect x="407.714" y="191.49" width="2.268" height="65.81"/>
<rect x="410.582" y="144.24" width="2.268" height="113.06"/>
<rect x="413.45" y="169.44" width="2.268" height="87.86"/>
<rect x="416.318" y="58.98" width="2.268" height="198.32"/>
<rect x="419.186" y="92.58" width="2.268" height="164.72"/>
<rect x="422.054" y="167.55" width="2.268" height="89.75"/>
<rect x="424.922" y="134.37" width="2.268" height="122.93"/>
<rect x="427.79" y="172.59" width="2.268" height="84.71"/>
<rect x="430.658" y="60.66" width="2.268" height="196.64"/>
<rect x="433.526" y="171.75" width="2.268" height="85.55"/>
<rect x="436.394" y="144.87" width="2.268" height="112.43"/>
<rect x="439.262" y="217.11" width="2.268" height="40.19"/>
<rect x="442.13" y="68.22" width="2.268" height="189.08"/>
<rect x="444.998" y="188.13" width="2.268" height="69.17"/>
<rect x="447.866" y="176.58" width="2.268" height="80.72"/>
<rect x="450.734" y="83.34" width="2.268" height="173.96"/>
<rect x="453.602" y="171.54" width="2.268" height="85.76"/>
<rect x="456.47" y="166.29" width="2.268" height="91.01"/>
<rect x="459.338" y="154.11" width="2.268" height="103.19"/>
<rect x="462.206" y="169.65" width="2.268" height="87.65"/>
<rect x="465.074" y="183.72" width="2.268" height="73.58"/>
<rect x="467.942" y="175.11" width="2.268" height="82.19"/>
<rect x="470.81" y="60.66" width="2.268" height="196.64"/>
<rect x="473.678" y="217.95" width="2.268" height="39.35"/>
<rect x="476.546" y="165.45" width="2.268" height="91.85"/>
<rect x="479.414" y="186.45" width="2.268" height="70.85"/>
<rect x="482.282" y="196.32" width="2.268" height="60.98"/>
<rect x="485.15" y="226.35" width="2.268" height="30.95"/>
<rect x="488.018" y="165.45" width="2.268" height="91.85"/>
<rect x="490.886" y="60.03" width="2.268" height="197.27"/>
<rect x="493.754" y="188.13" width="2.268" height="69.17"/>
<rect x="496.622" y="167.76" width="2.268" height="89.54"/>
<rect x="499.49" y="180.57" width="2.268" height="76.73"/>
<rect x="502.358" y="157.68" width="2.268" height="99.62"/>
<rect x="505.226" y="165.45" width="2.268" height="91.85"/>
<rect x="508.094" y="188.13" width="2.268" height="69.17"/>
<rect x="510.962" y="71.16" width="2.268" height="186.14"/>
<rect x="513.83" y="103.92" width="2.268" height="153.38"/>
<rect x="516.698" y="109.59" width="2.268" height="147.71"/>
<rect x="519.566" y="143.4" width="2.268" height="113.9"/>
<rect x="522.434" y="218.16" width="2.268" height="39.14"/>
<rect x="525.302" y="196.11" width="2.268" height="61.19"/>
<rect x="528.17" y="157.68" width="2.268" height="99.62"/>
<rect x="531.038" y="208.92" width="2.268" height="48.38"/>
<rect x="533.906" y="104.97" width="2.268" height="152.33"/>
<rect x="536.774" y="124.08" width="2.268" height="133.22"/>
<rect x="539.642" y="214.59" width="2.268" height="42.71"/>
<rect x="542.51" y="195.9" width="2.268" height="61.4"/>
<rect x="545.378" y="168.6" width="2.268" height="88.7"/>
<rect x="548.246" y="208.92" width="2.268" height="48.38"/>
<rect x="551.114" y="165.45" width="2.268" height="91.85"/>
<rect x="553.982" y="174.27" width="2.268" height="83.03"/>
<rect x="556.85" y="76.62" width="2.268" height="180.68"/>
<rect x="559.718" y="222.78" width="2.268" height="34.52"/>
<rect x="562.586" y="134.37" width="2.268" height="122.93"/>
<rect x="565.454" y="177.63" width="2.268" height="79.67"/>
<rect x="568.322" y="141.3" width="2.268" height="116"/>
<rect x="571.19" y="137.73" width="2.268" height="119.57"/>
<rect x="574.058" y="111.27" width="2.268" height="146.03"/>
<rect x="576.926" y="169.65" width="2.268" height="87.65"/>
<rect x="579.794" y="173.01" width="2.268" height="84.29"/>
<rect x="582.662" y="157.26" width="2.268" height="100.04"/>
<rect x="585.53" y="125.55" width="2.268" height="131.75"/>
<rect x="588.398" y="86.57" width="2.268" height="170.73"/>
<rect x="591.266" y="205.35" width="2.268" height="51.95"/>
<rect x="594.134" y="222.78" width="2.268" height="34.52"/>
<rect x="597.002" y="226.77" width="2.268" height="30.53"/>
<rect x="599.87" y="69.9" width="2.268" height="187.4"/>
<rect x="602.738" y="179.52" width="2.268" height="77.78"/>
<rect x="605.606" y="184.56" width="2.268" height="72.74"/>
<rect x="608.474" y="129.54" width="2.268" height="127.76"/>
<rect x="611.342" y="166.71" width="2.268" height="90.59"/>
<rect x="614.21" y="169.44" width="2.268" height="87.86"/>
<rect x="617.078" y="222.78" width="2.268" height="34.52"/>
<rect x="619.946" y="185.82" width="2.268" height="71.48"/>
<rect x="622.814" y="82.5" width="2.268" height="174.8"/>
<rect x="625.682" y="156" width="2.268" height="101.3"/>
<rect x="628.55" y="55.41" width="2.268" height="201.89"/>
<rect x="631.418" y="128.28" width="2.268" height="129.02"/>
<rect x="634.286" y="137.31" width="2.268" height="119.99"/>
<rect x="637.154" y="109.59" width="2.268" height="147.71"/>
<rect x="640.022" y="112.11" width="2.268" height="145.19"/>
<rect x="642.89" y="105.39" width="2.268" height="151.91"/>
<rect x="645.758" y="76.93" width="2.268" height="180.37"/>
<rect x="648.626" y="53.86" width="2.268" height="203.44"/>
<rect x="651.494" y="183.72" width="2.268" height="73.58"/>
<rect x="654.362" y="121.77" width="2.268" height="135.53"/>
<rect x="657.23" y="176.79" width="2.268" height="80.51"/>
<rect x="660.098" y="117.36" width="2.268" height="139.94"/>
<rect x="662.966" y="190.44" width="2.268" height="66.86"/>
<rect x="665.834" y="207.97" width="2.268" height="49.33"/>
<rect x="668.702" y="186.03" width="2.268" height="71.27"/>
<rect x="671.57" y="55.83" width="2.268" height="201.47"/>
<rect x="674.438" y="137.31" width="2.268" height="119.99"/>
<rect x="677.306" y="81.45" width="2.268" height="175.85"/>
</g>
<g stroke="#000" stroke-width="1" fill="none">
<line x1="393" y1="25.8" x2="393" y2="257.8"/>
<line x1="392.5" y1="257.3" x2="679.6" y2="257.3"/>
<line x1="388.4" y1="257.65" x2="393" y2="257.65"/>
<line x1="390.6" y1="236.65" x2="393" y2="236.65"/>
<line x1="388.4" y1="215.65" x2="393" y2="215.65"/>
<line x1="390.6" y1="194.65" x2="393" y2="194.65"/>
<line x1="388.4" y1="173.65" x2="393" y2="173.65"/>
<line x1="390.6" y1="152.65" x2="393" y2="152.65"/>
<line x1="388.4" y1="131.65" x2="393" y2="131.65"/>
<line x1="390.6" y1="110.65" x2="393" y2="110.65"/>
<line x1="388.4" y1="89.65" x2="393" y2="89.65"/>
<line x1="390.6" y1="68.65" x2="393" y2="68.65"/>
<line x1="388.4" y1="47.65" x2="393" y2="47.65"/>
<line x1="390.6" y1="26.65" x2="393" y2="26.65"/>
<line x1="420.32" y1="257.3" x2="420.32" y2="259.7"/>
<line x1="449" y1="257.3" x2="449" y2="261.9"/>
<line x1="477.68" y1="257.3" x2="477.68" y2="259.7"/>
<line x1="506.36" y1="257.3" x2="506.36" y2="261.9"/>
<line x1="535.04" y1="257.3" x2="535.04" y2="259.7"/>
<line x1="563.72" y1="257.3" x2="563.72" y2="261.9"/>
<line x1="592.4" y1="257.3" x2="592.4" y2="259.7"/>
<line x1="621.08" y1="257.3" x2="621.08" y2="261.9"/>
<line x1="649.76" y1="257.3" x2="649.76" y2="259.7"/>
<line x1="678.44" y1="257.3" x2="678.44" y2="261.9"/>
</g>
<text class="t" x="385.8" y="262.05" text-anchor="end" xml:space="preserve">0. 0</text>
<text class="t" x="385.8" y="220.05" text-anchor="end" xml:space="preserve">0. 2</text>
<text class="t" x="385.8" y="178.05" text-anchor="end" xml:space="preserve">0. 4</text>
<text class="t" x="385.8" y="136.05" text-anchor="end" xml:space="preserve">0. 6</text>
<text class="t" x="385.8" y="94.05" text-anchor="end" xml:space="preserve">0. 8</text>
<text class="t" x="385.8" y="52.05" text-anchor="end" xml:space="preserve">1. 0</text>
<text class="t" x="449" y="273.3" text-anchor="middle">20</text>
<text class="t" x="506.36" y="273.3" text-anchor="middle">40</text>
<text class="t" x="563.72" y="273.3" text-anchor="middle">60</text>
<text class="t" x="621.08" y="273.3" text-anchor="middle">80</text>
<text class="t" x="678.44" y="273.3" text-anchor="middle">100</text>
<text class="l" x="535" y="288.6" text-anchor="middle">Sample</text>
<text class="l" transform="translate(364.3,142.5) rotate(-90)" text-anchor="middle">Belief degree</text>
<rect x="245.5" y="1.5" width="68" height="14" fill="#fff" stroke="#333" stroke-width="1"/>
<rect x="247.5" y="3.5" width="20" height="9.5" fill="#ff0000" stroke="#300" stroke-width="0.8"/>
<text class="t" x="273.1" y="11.6">Spammer</text>
<rect x="583.5" y="4" width="78" height="14.4" fill="#fff" stroke="#333" stroke-width="1"/>
<rect x="585.2" y="6.1" width="20" height="9.5" fill="#0000ff"/>
<g clip-path="url(#lc)" stroke="#000" stroke-width="0.8"><line x1="575" y1="6" x2="585" y2="16"/><line x1="577.2" y1="6" x2="587.2" y2="16"/><line x1="579.4" y1="6" x2="589.4" y2="16"/><line x1="581.6" y1="6" x2="591.6" y2="16"/><line x1="583.8" y1="6" x2="593.8" y2="16"/><line x1="586" y1="6" x2="596" y2="16"/><line x1="588.2" y1="6" x2="598.2" y2="16"/><line x1="590.4" y1="6" x2="600.4" y2="16"/><line x1="592.6" y1="6" x2="602.6" y2="16"/><line x1="594.8" y1="6" x2="604.8" y2="16"/><line x1="597" y1="6" x2="607" y2="16"/><line x1="599.2" y1="6" x2="609.2" y2="16"/><line x1="601.4" y1="6" x2="611.4" y2="16"/><line x1="603.6" y1="6" x2="613.6" y2="16"/><line x1="605.8" y1="6" x2="615.8" y2="16"/></g>
<rect x="585.2" y="6.1" width="20" height="9.5" fill="none" stroke="#001" stroke-width="0.8"/>
<text class="t" x="610.5" y="14.3" style="font-size:9.95px">Normal user</text>

</svg></body></html>
